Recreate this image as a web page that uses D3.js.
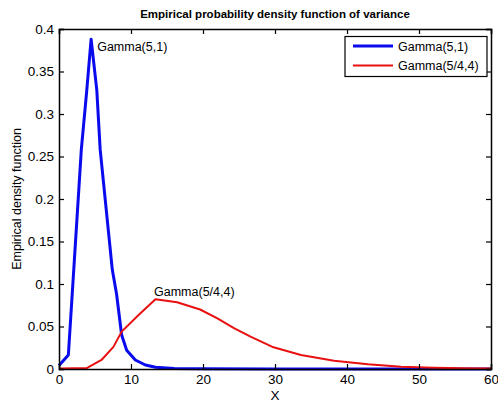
<!DOCTYPE html>
<html><head><meta charset="utf-8">
<script src="https://cdn.jsdelivr.net/npm/d3@7"></script>
<style>
body{margin:0;background:#fff;}
text{font-family:"Liberation Sans",Arial,Helvetica,sans-serif;fill:#000;}
</style></head>
<body><svg id="c" width="498" height="406"></svg>
<script>
const title = "Empirical probability density function of variance";
const xLabel = "X";
const yLabel = "Empirical density function";
const xTicks = [0,10,20,30,40,50,60];
const yTicks = [0,0.05,0.1,0.15,0.2,0.25,0.3,0.35,0.4];
const seriesNames = ["Gamma(5,1)","Gamma(5/4,4)"];
const seriesColors = ["#0a0aee","#e81010"];
const seriesWidths = [3,2];
// Gamma(5,1) empirical density: [x, density]
const gamma51 = [[0,0.004],[1.3,0.0165],[2.05,0.117],[3.1,0.258],[3.86,0.328],[4.46,0.388],[5.25,0.328],[5.72,0.258],[7.4,0.117],[8.0,0.088],[8.7,0.04],[9.4,0.022],[10.6,0.0106],[12,0.0047],[13.4,0.002],[16,0.0007],[20,0.0003],[30,0.0001],[60,0]];
// Gamma(5/4,4) empirical density
const gamma544 = [[0,0.0005],[2,0.0008],[3.85,0.001],[5.9,0.0106],[7.56,0.026],[8.7,0.044],[11.05,0.0635],[13.4,0.082],[16.4,0.0785],[19.6,0.070],[22,0.0596],[24.3,0.048],[26.6,0.038],[29.8,0.0255],[33.6,0.0165],[38.2,0.0098],[42.9,0.0055],[47.5,0.0027],[52.1,0.0015],[56,0.0009],[60,0.0006]];
const annotations = [{text:"Gamma(5,1)", x:5.3, y:0.374},{text:"Gamma(5/4,4)", x:13.2, y:0.0855}];

const svg = d3.select("#c");
const m = {l:59, r:491, t:29, b:369};
const x = d3.scaleLinear().domain([0,60]).range([m.l,m.r]);
const y = d3.scaleLinear().domain([0,0.4]).range([m.b,m.t]);

svg.append("rect").attr("x",m.l).attr("y",m.t).attr("width",m.r-m.l).attr("height",m.b-m.t)
  .attr("fill","#fff").attr("stroke","none");

const line = d3.line().x(d=>x(d[0])).y(d=>y(d[1]));
const data = [gamma51, gamma544];
data.forEach((s,i)=>{
  svg.append("path").datum(s).attr("d",line).attr("fill","none")
    .attr("stroke",seriesColors[i]).attr("stroke-width",seriesWidths[i]).attr("stroke-linejoin","round");
});

const fmt = d=>d3.format("")(+d.toFixed(2));
const axB = svg.append("g").attr("transform",`translate(0,${m.b})`)
  .call(d3.axisBottom(x).tickValues(xTicks).tickSize(-5).tickPadding(5).tickFormat(d3.format("d")));
const axT = svg.append("g").attr("transform",`translate(0,${m.t})`)
  .call(d3.axisTop(x).tickValues(xTicks).tickSize(-5).tickFormat(""));
const axL = svg.append("g").attr("transform",`translate(${m.l},0)`)
  .call(d3.axisLeft(y).tickValues(yTicks).tickSize(-5).tickPadding(5).tickFormat(fmt));
const axR = svg.append("g").attr("transform",`translate(${m.r},0)`)
  .call(d3.axisRight(y).tickValues(yTicks).tickSize(-5).tickFormat(""));
[axB,axT,axL,axR].forEach(g=>{
  g.select(".domain").attr("stroke","#000").attr("stroke-width",1.5);
  g.selectAll(".tick line").attr("stroke","#000").attr("stroke-width",1.2);
  g.selectAll("text").attr("font-size",13.5).attr("font-family","Liberation Sans, Arial, sans-serif").attr("fill","#000");
});
axB.selectAll("text").attr("dy","0.75em");

svg.append("text").attr("x",(m.l+m.r)/2).attr("y",18).attr("text-anchor","middle")
  .attr("font-size",11.5).attr("font-weight","bold").text(title);
svg.append("text").attr("x",(m.l+m.r)/2).attr("y",400).attr("text-anchor","middle")
  .attr("font-size",13.5).text(xLabel);
svg.append("text").attr("transform",`translate(21,${(m.t+m.b)/2}) rotate(-90)`).attr("text-anchor","middle")
  .attr("font-size",12.5).text(yLabel);

annotations.forEach(a=>{
  svg.append("text").attr("x",x(a.x)).attr("y",y(a.y)).attr("font-size",12.5).text(a.text);
});

const lg = svg.append("g");
lg.append("rect").attr("x",345).attr("y",36.5).attr("width",142).attr("height",40)
  .attr("fill","#fff").attr("stroke","#000").attr("stroke-width",1.2);
seriesNames.forEach((n,i)=>{
  const yy = 46 + i*19.5;
  lg.append("line").attr("x1",353).attr("x2",393).attr("y1",yy).attr("y2",yy)
    .attr("stroke",seriesColors[i]).attr("stroke-width",seriesWidths[i]);
  lg.append("text").attr("x",398).attr("y",yy+4.5).attr("font-size",12.5).text(n);
});
</script></body></html>
